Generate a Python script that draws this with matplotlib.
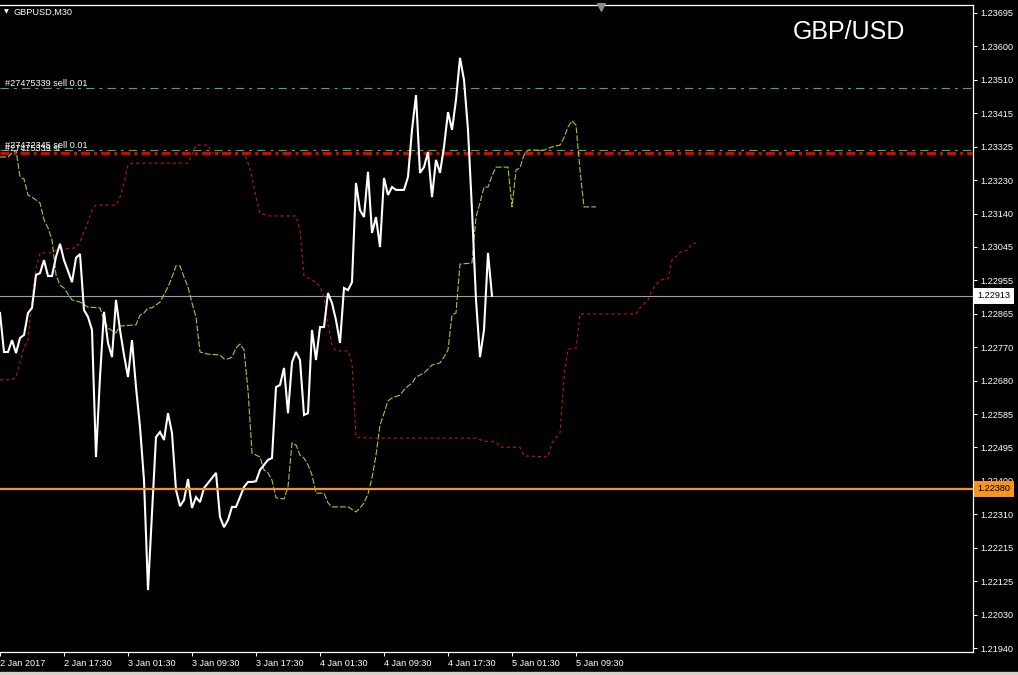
import matplotlib.pyplot as plt
from matplotlib.patches import Rectangle
from matplotlib.transforms import blended_transform_factory

plt.rcParams['lines.scale_dashes'] = False
plt.rcParams['font.family'] = ['Liberation Sans', 'DejaVu Sans']

# GBPUSD M30 closes, one per bar (bar 0 = 2 Jan 2017)
close = [1.22866, 1.22758, 1.22758, 1.22791, 1.22755, 1.22797, 1.22805, 1.22866,
         1.22880, 1.22971, 1.22976, 1.23012, 1.22968, 1.22968, 1.23021, 1.23057,
         1.23012, 1.22982, 1.22951, 1.23018, 1.23029, 1.22874, 1.22855, 1.22819,
         1.22468, 1.22689, 1.22869, 1.22783, 1.22744, 1.22902, 1.22819, 1.22750,
         1.22689, 1.22791, 1.22661, 1.22551, 1.22404, 1.22100, 1.22313, 1.22523,
         1.22537, 1.22515, 1.22589, 1.22534, 1.22377, 1.22332, 1.22349, 1.22407,
         1.22327, 1.22357, 1.22343, 1.22382, 1.22396, 1.22410, 1.22424, 1.22302,
         1.22274, 1.22294, 1.22330, 1.22330, 1.22357, 1.22385, 1.22399, 1.22399,
         1.22401, 1.22432, 1.22446, 1.22460, 1.22465, 1.22661, 1.22667, 1.22714,
         1.22589, 1.22730, 1.22758, 1.22736, 1.22584, 1.22589, 1.22819, 1.22736,
         1.22827, 1.22827, 1.22921, 1.22893, 1.22846, 1.22783, 1.22935, 1.22929,
         1.22951, 1.23225, 1.23150, 1.23131, 1.23256, 1.23087, 1.23131, 1.23048,
         1.23239, 1.23192, 1.23214, 1.23206, 1.23206, 1.23206, 1.23242, 1.23372,
         1.23468, 1.23253, 1.23269, 1.23311, 1.23186, 1.23289, 1.23253, 1.23325,
         1.23421, 1.23372, 1.23455, 1.23571, 1.23510, 1.23372, 1.23150, 1.22902,
         1.22744, 1.22819, 1.23032, 1.22913]

# green dashed indicator (bar index, price)
green_bar = [0, 2, 3, 4, 5, 6, 7, 8, 10, 11, 12, 13, 14, 15, 16, 17, 18, 20, 22, 25,
             26, 27, 29, 30, 34, 35, 36, 37, 38, 40, 42, 43, 44, 45, 46, 47, 48, 49,
             50, 52, 55, 56, 57, 58, 59, 60, 61, 62, 63, 64, 65, 66, 67, 68, 69, 71,
             72, 73, 74, 75, 76, 77, 78, 79, 81, 82, 83, 87, 89, 90, 91, 92, 93, 94,
             95, 96, 97, 98, 100, 101, 102, 103, 104, 106, 108, 110, 111, 112, 113,
             114, 115, 118, 119, 120, 121, 122, 123, 124, 127, 128, 129, 130, 131,
             132, 136, 138, 140, 141, 142, 143, 144, 145, 146, 149]
green_val = [1.23297, 1.23297, 1.23308, 1.23316, 1.23242, 1.23236, 1.23192, 1.23186,
             1.23170, 1.23123, 1.23101, 1.23068, 1.22971, 1.22943, 1.22935, 1.22918,
             1.22902, 1.22896, 1.22882, 1.22880, 1.22846, 1.22824, 1.22811, 1.22830,
             1.22833, 1.22860, 1.22866, 1.22880, 1.22880, 1.22896, 1.22938, 1.22965,
             1.22996, 1.22996, 1.22965, 1.22938, 1.22893, 1.22855, 1.22758, 1.22752,
             1.22750, 1.22739, 1.22739, 1.22744, 1.22769, 1.22780, 1.22764, 1.22653,
             1.22479, 1.22473, 1.22468, 1.22432, 1.22424, 1.22404, 1.22355, 1.22352,
             1.22385, 1.22507, 1.22501, 1.22473, 1.22465, 1.22446, 1.22418, 1.22368,
             1.22368, 1.22341, 1.22330, 1.22330, 1.22316, 1.22327, 1.22341, 1.22366,
             1.22410, 1.22473, 1.22556, 1.22589, 1.22623, 1.22631, 1.22639, 1.22653,
             1.22664, 1.22672, 1.22689, 1.22700, 1.22722, 1.22728, 1.22744, 1.22764,
             1.22860, 1.22866, 1.23001, 1.23004, 1.23131, 1.23170, 1.23214, 1.23214,
             1.23245, 1.23269, 1.23269, 1.23159, 1.23261, 1.23267, 1.23303, 1.23316,
             1.23316, 1.23325, 1.23330, 1.23350, 1.23380, 1.23397, 1.23385, 1.23261,
             1.23159, 1.23159]

# red dotted indicator (bar index, price)
red_bar = [0, 3, 4, 5, 6, 7, 8, 9, 10, 13, 14, 16, 19, 20, 21, 22, 23, 24, 29, 30,
           31, 32, 33, 47, 48, 49, 52, 53, 61, 62, 63, 64, 65, 67, 74, 75, 76, 77, 79,
           80, 81, 82, 83, 84, 87, 88, 89, 92, 119, 121, 124, 125, 130, 131, 137, 138,
           140, 141, 142, 144, 145, 159, 160, 162, 163, 164, 165, 167, 168, 169, 170,
           172, 173, 174]
red_val = [1.22681, 1.22681, 1.22689, 1.22728, 1.22772, 1.22791, 1.22902, 1.22990,
           1.23032, 1.23032, 1.23040, 1.23043, 1.23046, 1.23062, 1.23090, 1.23117,
           1.23150, 1.23164, 1.23164, 1.23186, 1.23225, 1.23275, 1.23280, 1.23280,
           1.23303, 1.23330, 1.23330, 1.23308, 1.23308, 1.23280, 1.23242, 1.23186,
           1.23142, 1.23134, 1.23134, 1.23095, 1.22968, 1.22963, 1.22951, 1.22938,
           1.22910, 1.22833, 1.22777, 1.22761, 1.22761, 1.22728, 1.22523, 1.22520,
           1.22520, 1.22512, 1.22509, 1.22495, 1.22495, 1.22471, 1.22468, 1.22507,
           1.22534, 1.22689, 1.22766, 1.22769, 1.22863, 1.22863, 1.22880, 1.22902,
           1.22929, 1.22943, 1.22957, 1.22960, 1.23012, 1.23021, 1.23034, 1.23040,
           1.23057, 1.23059]

sell_1 = 1.23488
sell_2 = 1.23316
stop_loss = 1.23307
bid = 1.22913
orange_level = 1.22380

ytick_labels = ["1.23695", "1.23600", "1.23510", "1.23415", "1.23325", "1.23230",
                "1.23140", "1.23045", "1.22955", "1.22865", "1.22770", "1.22680",
                "1.22585", "1.22495", "1.22400", "1.22310", "1.22215", "1.22125",
                "1.22030", "1.21940"]
xtick_bars = [0, 16, 32, 48, 64, 80, 96, 112, 128, 144]
xtick_labels = ["2 Jan 2017", "2 Jan 17:30", "3 Jan 01:30", "3 Jan 09:30",
                "3 Jan 17:30", "4 Jan 01:30", "4 Jan 09:30", "4 Jan 17:30",
                "5 Jan 01:30", "5 Jan 09:30"]

W, H = 1018, 675
fig = plt.figure(figsize=(W / 100, H / 100), dpi=100, facecolor='black')
ax = fig.add_axes([0, 1 - 652 / H, 973 / W, 647 / H], facecolor='black')

ax.plot(range(len(close)), close, color='white', lw=1.5, zorder=5,
        solid_joinstyle='miter')
ax.plot(green_bar, green_val, color='#9acd32', lw=0.8, ls=(0, (4.3, 1.4)), zorder=4)
ax.plot(red_bar, red_val, color='#c81414', lw=0.8, ls=(0, (2.2, 2.2)), zorder=4)

ax.axhline(sell_1, color='#3cb83c', lw=0.8, ls=(0, (6, 3.6, 2.2, 3.6)), zorder=3)
ax.axhline(sell_2, color='#3cb83c', lw=0.8, ls=(0, (6, 3.6, 2.2, 3.6)), zorder=3)
ax.axhline(stop_loss, color='#e00000', lw=2.2, ls=(0, (6.5, 2.9, 2.2, 2.9)), zorder=3)
ax.axhline(bid, color='#a0a0a0', lw=0.8, zorder=2)
ax.axhline(orange_level, color='#f7941d', lw=1.6, zorder=6)

tr = blended_transform_factory(ax.transAxes, ax.transData)
ax.text(5 / 973, sell_1, "#27475339 sell 0.01", transform=tr, color='white',
        fontsize=6.6, va='bottom')
ax.text(5 / 973, sell_2, "#27472345 sell 0.01", transform=tr, color='white',
        fontsize=6.6, va='bottom')
ax.text(5 / 973, stop_loss, "#27475339 sl", transform=tr, color='white',
        fontsize=6.6, va='bottom')

ax.text(1.0046, bid, "1.22913", transform=tr, color='black', fontsize=6.6,
        va='center', ha='left', clip_on=False, zorder=10,
        bbox=dict(facecolor='white', edgecolor='none', boxstyle='square,pad=0.35'))
ax.text(1.0046, orange_level, "1.22380", transform=tr, color='black', fontsize=6.6,
        va='center', ha='left', clip_on=False, zorder=10,
        bbox=dict(facecolor='#f7941d', edgecolor='none', boxstyle='square,pad=0.35'))

ax.set_xlim(0, 243.25)
ax.set_ylim(1.21929, 1.23717)
ax.set_xticks(xtick_bars)
ax.set_xticklabels(xtick_labels)
ytick_pos = [1.23695 - k * (1.23695 - 1.21940) / 19 for k in range(20)]
ax.set_yticks(ytick_pos)
ax.set_yticklabels(ytick_labels)
ax.yaxis.tick_right()
ax.tick_params(colors='white', labelsize=6.6, length=3, width=0.7, direction='out')
ax.tick_params(axis='x', pad=2)
ax.tick_params(axis='y', pad=2)
for lab in ax.get_xticklabels():
    lab.set_ha('left')
for side in ['top', 'right', 'bottom']:
    ax.spines[side].set_color('white')
    ax.spines[side].set_linewidth(0.9)
ax.spines['left'].set_visible(False)

fig.text(849 / W, 1 - 32 / H, "GBP/USD", color='white', fontsize=18,
         ha='center', va='center')
fig.text(14 / W, 1 - 12 / H, "GBPUSD,M30", color='white', fontsize=6.6, va='center')
fig.text(4 / W, 1 - 12 / H, "\u25bc", color='white', fontsize=4.5, va='center',
         family='DejaVu Sans')
ax.scatter([601 / W], [1 - 7 / H], marker='v', s=30, color='#8c8c8c',
           transform=fig.transFigure, clip_on=False, zorder=10)
fig.patches.append(Rectangle((0, 0), 1, 3 / H, transform=fig.transFigure,
                             color='#d4d0c8'))

plt.savefig("out.png", dpi=100, facecolor='black')
